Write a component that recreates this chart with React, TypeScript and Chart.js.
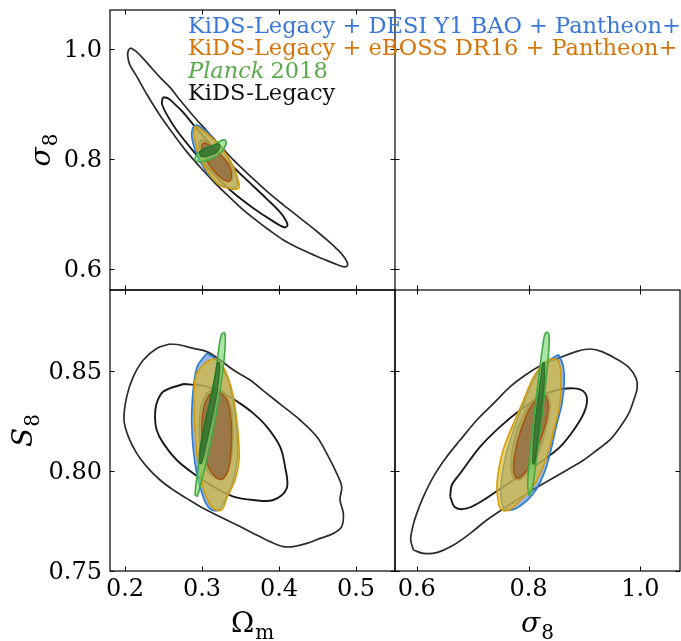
import React, { useEffect, useRef } from 'react';
import { Chart, registerables } from 'chart.js';

Chart.register(...registerables);
Chart.defaults.font.family = '"DejaVu Serif", serif';

type Pt = [number, number];

// ---------------- axes ----------------
const omegaTicks = [0.2, 0.3, 0.4, 0.5];
const sigma8Ticks = [0.6, 0.8, 1.0];
const s8Ticks = [0.75, 0.8, 0.85];
const omegaMin = 0.1805;
const omegaMax = 0.5506;
const sigma8Min = 0.561;
const sigma8Max = 1.071;
const s8Min = 0.75;
const s8Max = 0.8905;

const legendLabels = [
  'KiDS-Legacy + DESI Y1 BAO + Pantheon+',
  'KiDS-Legacy + eBOSS DR16 + Pantheon+',
  'Planck',
  '2018',
  'KiDS-Legacy',
];

// ---------------- Omega_m vs sigma_8 ----------------
const kidsOuterOmSig: Pt[] = [
  [0.2075, 1.002], [0.214, 0.996], [0.224, 0.982], [0.236, 0.963], [0.247, 0.946], [0.2584, 0.93],
  [0.2714, 0.907], [0.2887, 0.878], [0.3061, 0.851], [0.3234, 0.824], [0.3407, 0.798], [0.3623, 0.769],
  [0.384, 0.741], [0.4056, 0.716], [0.4273, 0.692], [0.4489, 0.668], [0.4641, 0.65], [0.4749, 0.636],
  [0.483, 0.624], [0.488, 0.613], [0.489, 0.606], [0.485, 0.603], [0.476, 0.607], [0.46, 0.616],
  [0.44, 0.628], [0.4186, 0.642], [0.4056, 0.652], [0.3883, 0.669], [0.3667, 0.692], [0.3494, 0.712],
  [0.332, 0.735], [0.3147, 0.759], [0.2974, 0.785], [0.2801, 0.813], [0.2628, 0.845], [0.2455, 0.879],
  [0.2281, 0.918], [0.2152, 0.95], [0.206, 0.972], [0.2035, 0.988], [0.2045, 0.998],
];
const kidsInnerOmSig: Pt[] = [
  [0.249, 0.912], [0.256, 0.91], [0.265, 0.899], [0.2758, 0.884], [0.29, 0.86], [0.3061, 0.834],
  [0.32, 0.813], [0.332, 0.797], [0.3494, 0.773], [0.3667, 0.75], [0.384, 0.727], [0.4013, 0.703],
  [0.408, 0.69], [0.411, 0.679], [0.407, 0.675], [0.3926, 0.686], [0.3667, 0.71], [0.3407, 0.738],
  [0.3147, 0.773], [0.2887, 0.814], [0.2671, 0.852], [0.2545, 0.88], [0.248, 0.9],
];
const desiOuterOmSig: Pt[] = [
  [0.3061, 0.8502], [0.2996, 0.8564], [0.2939, 0.8613], [0.29, 0.86], [0.2874, 0.8536], [0.2866, 0.8428],
  [0.2887, 0.8262], [0.2931, 0.8081], [0.2987, 0.7922], [0.3039, 0.7797], [0.3113, 0.7665], [0.3212, 0.7543],
  [0.3312, 0.7483], [0.3407, 0.7465], [0.3459, 0.7517], [0.345, 0.7651], [0.3407, 0.7824], [0.3342, 0.8011],
  [0.3234, 0.8215], [0.3139, 0.838],
];
const desiInnerOmSig: Pt[] = [
  [0.3169, 0.8186], [0.3061, 0.8304], [0.2987, 0.834], [0.2961, 0.8276], [0.2974, 0.8158], [0.3026, 0.7995],
  [0.3126, 0.7812], [0.3234, 0.7669], [0.3342, 0.7585], [0.3398, 0.7631], [0.3398, 0.7756], [0.3355, 0.7893],
  [0.3277, 0.8034],
];
const ebossOuterOmSig: Pt[] = [
  [0.319, 0.83], [0.3104, 0.841], [0.3017, 0.8506], [0.2931, 0.8587], [0.29, 0.8566], [0.2896, 0.847],
  [0.2909, 0.8332], [0.2931, 0.8183], [0.2974, 0.8023], [0.3039, 0.7837], [0.3147, 0.7628], [0.3255, 0.7493],
  [0.3329, 0.7473], [0.3429, 0.7441], [0.3481, 0.7478], [0.3472, 0.7596], [0.345, 0.7698], [0.3407, 0.7856],
  [0.3342, 0.8018], [0.3268, 0.8168],
];
const ebossInnerOmSig: Pt[] = [
  [0.319, 0.8148], [0.3095, 0.825], [0.3026, 0.8286], [0.2996, 0.8228], [0.3017, 0.809], [0.3082, 0.7915],
  [0.3182, 0.7737], [0.3268, 0.7627], [0.3346, 0.7587], [0.3381, 0.7666], [0.3372, 0.7802], [0.3312, 0.7959],
];
const planckOuterOmSig: Pt[] = [
  [0.2905, 0.8], [0.293, 0.808], [0.298, 0.8135], [0.3039, 0.819], [0.3117, 0.8235], [0.318, 0.827],
  [0.3235, 0.832], [0.328, 0.8345], [0.331, 0.8325], [0.331, 0.826], [0.328, 0.818], [0.3242, 0.8105],
  [0.3169, 0.803], [0.3082, 0.7975], [0.2996, 0.795], [0.2925, 0.7955],
];
const planckInnerOmSig: Pt[] = [
  [0.2975, 0.807], [0.297, 0.8125], [0.3017, 0.818], [0.3095, 0.8215], [0.317, 0.8255], [0.3205, 0.8275],
  [0.323, 0.8245], [0.322, 0.8175], [0.317, 0.8105], [0.3095, 0.8065], [0.3025, 0.804], [0.2985, 0.8045],
];

// ---------------- Omega_m vs S_8 ----------------
const kidsOuterOmS8: Pt[] = [
  [0.2584, 0.8635], [0.2714, 0.863], [0.2887, 0.8613], [0.3061, 0.8597], [0.3234, 0.8555], [0.3407, 0.8505],
  [0.3623, 0.8455], [0.384, 0.8388], [0.4056, 0.8322], [0.4273, 0.8255], [0.4489, 0.8172], [0.4641, 0.8072],
  [0.4749, 0.7988], [0.4814, 0.7922], [0.4792, 0.7855], [0.4835, 0.7788], [0.4814, 0.7722], [0.4706, 0.7688],
  [0.4532, 0.7663], [0.4359, 0.7638], [0.4186, 0.7622], [0.4056, 0.7622], [0.3883, 0.7647], [0.3667, 0.7688],
  [0.3494, 0.7722], [0.332, 0.7755], [0.3147, 0.7788], [0.2974, 0.7822], [0.2801, 0.7863], [0.2628, 0.7905],
  [0.2455, 0.7955], [0.2281, 0.8022], [0.2152, 0.8088], [0.2043, 0.8172], [0.1987, 0.8255], [0.2022, 0.8372],
  [0.2108, 0.8472], [0.2238, 0.8555], [0.2411, 0.8613],
];
const kidsInnerOmS8: Pt[] = [
  [0.2758, 0.8435], [0.3061, 0.8422], [0.332, 0.838], [0.3494, 0.8338], [0.3667, 0.8288], [0.384, 0.8222],
  [0.4013, 0.8122], [0.4078, 0.8022], [0.41, 0.7913], [0.3926, 0.7855], [0.3667, 0.7855], [0.3407, 0.7872],
  [0.3147, 0.7922], [0.2887, 0.7988], [0.2671, 0.8055], [0.2498, 0.8138], [0.2411, 0.8205], [0.239, 0.8272],
  [0.2411, 0.8338], [0.2498, 0.8397],
];
const desiOuterOmS8: Pt[] = [
  [0.3061, 0.8588], [0.2996, 0.8558], [0.2939, 0.8525], [0.29, 0.8455], [0.2874, 0.8355], [0.2866, 0.8238],
  [0.2887, 0.8105], [0.2931, 0.7988], [0.2987, 0.7905], [0.3039, 0.7847], [0.3113, 0.7808], [0.3212, 0.7805],
  [0.3312, 0.7863], [0.3407, 0.7955], [0.3459, 0.8072], [0.345, 0.8205], [0.3407, 0.8338], [0.3342, 0.8455],
  [0.3234, 0.853], [0.3139, 0.8572],
];
const desiInnerOmS8: Pt[] = [
  [0.3169, 0.8413], [0.3061, 0.8388], [0.2987, 0.8322], [0.2961, 0.8222], [0.2974, 0.8122], [0.3026, 0.803],
  [0.3126, 0.7975], [0.3234, 0.7963], [0.3342, 0.8005], [0.3398, 0.8122], [0.3398, 0.8255], [0.3355, 0.8347],
  [0.3277, 0.8397],
];
const ebossOuterOmS8: Pt[] = [
  [0.319, 0.856], [0.3104, 0.8555], [0.3017, 0.853], [0.2931, 0.8488], [0.29, 0.8422], [0.2896, 0.8322],
  [0.2909, 0.8205], [0.2931, 0.8088], [0.2974, 0.7988], [0.3039, 0.7888], [0.3147, 0.7813], [0.3255, 0.7805],
  [0.3329, 0.7872], [0.3429, 0.7955], [0.3481, 0.8055], [0.3472, 0.8172], [0.345, 0.8255], [0.3407, 0.8372],
  [0.3342, 0.8463], [0.3268, 0.8525],
];
const ebossInnerOmS8: Pt[] = [
  [0.319, 0.8402], [0.3095, 0.838], [0.3026, 0.8322], [0.2996, 0.8222], [0.3017, 0.8113], [0.3082, 0.8022],
  [0.3182, 0.7968], [0.3268, 0.796], [0.3346, 0.8013], [0.3381, 0.8138], [0.3372, 0.8272], [0.3312, 0.8363],
];
const planckOuterOmS8: Pt[] = [
  [0.2909, 0.788], [0.2922, 0.7938], [0.2965, 0.8055], [0.3039, 0.8222], [0.3117, 0.8372], [0.3182, 0.8505],
  [0.3221, 0.8622], [0.3251, 0.868], [0.329, 0.8692], [0.3303, 0.8658], [0.3286, 0.8555], [0.3242, 0.8422],
  [0.3169, 0.8255], [0.3082, 0.8088], [0.2996, 0.7955], [0.2939, 0.7875],
];
const planckInnerOmS8: Pt[] = [
  [0.2974, 0.8038], [0.2965, 0.8085], [0.3017, 0.8205], [0.3095, 0.8338], [0.3169, 0.8472], [0.3199, 0.8538],
  [0.3225, 0.8542], [0.3221, 0.8472], [0.3169, 0.8338], [0.3095, 0.8205], [0.3026, 0.8088], [0.2991, 0.8038],
];

// ---------------- sigma_8 vs S_8 ----------------
const kidsOuterSigS8: Pt[] = [
  [0.594, 0.7605], [0.5892, 0.7655], [0.5928, 0.7722], [0.6, 0.7788], [0.6119, 0.7872], [0.6299, 0.7972],
  [0.6538, 0.8072], [0.6777, 0.8155], [0.7075, 0.8255], [0.7374, 0.8338], [0.7673, 0.8422], [0.7971, 0.8485],
  [0.827, 0.8535], [0.8569, 0.8568], [0.8867, 0.8598], [0.9106, 0.861], [0.9315, 0.8597], [0.9554, 0.8563],
  [0.9793, 0.8518], [0.9925, 0.8463], [0.9943, 0.8413], [0.9883, 0.8355], [0.9793, 0.8288], [0.9644, 0.8222],
  [0.9465, 0.8158], [0.9226, 0.8105], [0.8987, 0.8055], [0.8688, 0.8005], [0.833, 0.7947], [0.7971, 0.7888],
  [0.7613, 0.7822], [0.7254, 0.7755], [0.6956, 0.7688], [0.6657, 0.763], [0.6358, 0.7592], [0.6119, 0.7588],
];
const kidsInnerSigS8: Pt[] = [
  [0.6597, 0.7872], [0.6627, 0.793], [0.6777, 0.7988], [0.7135, 0.8122], [0.7493, 0.8222], [0.7852, 0.8305],
  [0.821, 0.8372], [0.8509, 0.8405], [0.8808, 0.8413], [0.8987, 0.8397], [0.9047, 0.8355], [0.8987, 0.8288],
  [0.8808, 0.8205], [0.8569, 0.8122], [0.827, 0.8055], [0.7912, 0.7988], [0.7553, 0.7922], [0.7195, 0.7855],
  [0.6896, 0.7813], [0.6687, 0.7818],
];
const desiOuterSigS8: Pt[] = [
  [0.8539, 0.8582], [0.8449, 0.8568], [0.833, 0.8547], [0.8198, 0.8505], [0.8061, 0.8438], [0.7912, 0.8338],
  [0.7732, 0.8205], [0.7601, 0.8088], [0.7523, 0.7972], [0.7505, 0.7872], [0.7565, 0.7813], [0.7732, 0.7808],
  [0.7971, 0.7852], [0.8151, 0.7913], [0.83, 0.8005], [0.8401, 0.8105], [0.8495, 0.8222], [0.8598, 0.8338],
  [0.864, 0.8455], [0.8616, 0.853],
];
const desiInnerSigS8: Pt[] = [
  [0.833, 0.8392], [0.8198, 0.838], [0.8031, 0.8338], [0.7864, 0.8255], [0.7744, 0.8155], [0.7685, 0.8047],
  [0.7714, 0.7972], [0.7804, 0.7955], [0.7924, 0.7972], [0.8079, 0.803], [0.8222, 0.8122], [0.8341, 0.8247],
  [0.8389, 0.8338],
];
const ebossOuterSigS8: Pt[] = [
  [0.8449, 0.8563], [0.83, 0.8547], [0.818, 0.8508], [0.8061, 0.8455], [0.7912, 0.8355], [0.7732, 0.8238],
  [0.7565, 0.8122], [0.7475, 0.8022], [0.7434, 0.7922], [0.7464, 0.7838], [0.7523, 0.7805], [0.7673, 0.7808],
  [0.7852, 0.7855], [0.8079, 0.7922], [0.8258, 0.8022], [0.8378, 0.8122], [0.8467, 0.8222], [0.8551, 0.8322],
  [0.8581, 0.8438], [0.8569, 0.8513], [0.8521, 0.8555],
];
const ebossInnerSigS8: Pt[] = [
  [0.83, 0.838], [0.8163, 0.8363], [0.8013, 0.8308], [0.7864, 0.8205], [0.7763, 0.8097], [0.7733, 0.7997],
  [0.781, 0.7963], [0.7959, 0.8002], [0.8138, 0.8105], [0.83, 0.823], [0.8353, 0.8335],
];
const planckOuterSigS8: Pt[] = [
  [0.8013, 0.7875], [0.7983, 0.7922], [0.8013, 0.8055], [0.8091, 0.8255], [0.8174, 0.8455], [0.8252, 0.8622],
  [0.8288, 0.868], [0.833, 0.8693], [0.8366, 0.868], [0.836, 0.8597], [0.8306, 0.8438], [0.8222, 0.8238],
  [0.8139, 0.8055], [0.8067, 0.7913],
];
const planckInnerSigS8: Pt[] = [
  [0.8073, 0.8038], [0.8091, 0.8155], [0.8151, 0.8322], [0.8222, 0.8472], [0.8252, 0.8538], [0.8282, 0.8542],
  [0.8282, 0.8455], [0.8222, 0.8288], [0.8151, 0.8122], [0.8103, 0.8035],
];

// ---------------- styles ----------------
interface Style { edge: string; fill: string | null; width: number }
const STY: Record<string, Style> = {
  kidsOuter: { edge: '#2b2b2b', fill: null, width: 1.7 },
  kidsInner: { edge: '#1a1a1a', fill: null, width: 1.9 },
  desiOuter: { edge: '#2a7ad2', fill: 'rgba(80,130,200,0.6)', width: 1.6 },
  desiInner: { edge: '#3a6aa5', fill: 'rgba(50,90,150,0.55)', width: 1.4 },
  ebossOuter: { edge: '#d49a0a', fill: 'rgba(222,188,40,0.65)', width: 1.6 },
  ebossInner: { edge: '#a8530e', fill: 'rgba(140,90,60,0.6)', width: 1.4 },
  planckOuter: { edge: '#42a842', fill: 'rgba(115,212,105,0.6)', width: 1.6 },
  planckInner: { edge: '#2a742a', fill: 'rgba(40,100,40,0.72)', width: 1.4 },
};

const W = 681;
const H = 641;
const colLeft = 110;
const colMid = 395;
const colRight = 680;
const rowTop = 10;
const rowMid = 290;
const rowBottom = 571;

function ds(pts: Pt[], st: Style) {
  const data = pts.map(([x, y]) => ({ x, y }));
  data.push({ ...data[0] });
  return {
    data,
    borderColor: st.edge,
    backgroundColor: st.fill ?? 'rgba(0,0,0,0)',
    fill: st.fill ? 'shape' : false,
    borderWidth: st.width,
    pointRadius: 0,
    tension: 0.35,
    borderJoinStyle: 'round',
  };
}

function panelDatasets(p: Record<string, Pt[]>) {
  // first = on top
  return [
    ds(p.planckInner, STY.planckInner),
    ds(p.planckOuter, STY.planckOuter),
    ds(p.ebossInner, STY.ebossInner),
    ds(p.ebossOuter, STY.ebossOuter),
    ds(p.desiInner, STY.desiInner),
    ds(p.desiOuter, STY.desiOuter),
    ds(p.kidsInner, STY.kidsInner),
    ds(p.kidsOuter, STY.kidsOuter),
  ];
}

const TICK_FONT = { family: '"DejaVu Serif", serif', size: 24 };

function axis(min: number, max: number, ticks: number[], show: boolean, size: number, dec: number, horizontal: boolean) {
  return {
    type: 'linear',
    min,
    max,
    afterBuildTicks: (s: any) => {
      s.ticks = ticks.map((v) => ({ value: v }));
    },
    afterFit: (s: any) => {
      if (horizontal) s.height = size;
      else s.width = size;
      s.paddingTop = 0;
      s.paddingBottom = 0;
      s.paddingLeft = 0;
      s.paddingRight = 0;
    },
    grid: { display: false, drawTicks: false },
    border: { display: false },
    ticks: {
      display: show,
      autoSkip: false,
      maxRotation: 0,
      minRotation: 0,
      padding: horizontal ? 4 : 8,
      labelOffset: horizontal ? 0 : 2,
      color: '#000',
      font: TICK_FONT,
      callback: (v: any) => Number(v).toFixed(dec),
    },
  };
}

const framePlugin = {
  id: 'frame',
  afterDatasetsDraw(chart: any, _a: any, opts: any) {
    const { ctx, chartArea: a } = chart;
    const xs = chart.scales.x;
    const ys = chart.scales.y;
    const L = 4.5;
    ctx.save();
    ctx.strokeStyle = '#000';
    ctx.lineWidth = 1;
    ctx.beginPath();
    for (const t of xs.ticks) {
      const px = Math.round(xs.getPixelForValue(t.value)) + 0.5;
      ctx.moveTo(px, a.bottom);
      ctx.lineTo(px, a.bottom - L);
      ctx.moveTo(px, a.top);
      ctx.lineTo(px, a.top + L);
      if (opts.topOut) {
        ctx.moveTo(px, a.top);
        ctx.lineTo(px, a.top - L);
      }
    }
    for (const t of ys.ticks) {
      const py = Math.round(ys.getPixelForValue(t.value)) + 0.5;
      ctx.moveTo(a.left, py);
      ctx.lineTo(a.left + L, py);
      ctx.moveTo(a.right, py);
      ctx.lineTo(a.right - L, py);
      if (opts.rightOut) {
        ctx.moveTo(a.right, py);
        ctx.lineTo(a.right + L, py);
      }
    }
    ctx.stroke();
    ctx.lineWidth = 1.2;
    ctx.strokeRect(a.left, a.top, a.right - a.left, a.bottom - a.top);
    ctx.restore();
  },
};

const SERIF = '"DejaVu Serif", serif';

function drawSubLabel(ctx: CanvasRenderingContext2D, main: string, mainItalic: boolean, sub: string, cx: number, base: number, rotated: boolean) {
  ctx.save();
  const mf = `${mainItalic ? 'italic ' : ''}28px ${SERIF}`;
  const sf = `20px ${SERIF}`;
  ctx.font = mf;
  const w1 = ctx.measureText(main).width;
  ctx.font = sf;
  const w2 = ctx.measureText(sub).width;
  const tot = w1 + w2 + 1;
  ctx.fillStyle = '#000';
  ctx.textAlign = 'left';
  ctx.textBaseline = 'alphabetic';
  if (rotated) {
    ctx.translate(base, cx);
    ctx.rotate(-Math.PI / 2);
    ctx.font = mf;
    ctx.fillText(main, -tot / 2, 0);
    ctx.font = sf;
    ctx.fillText(sub, -tot / 2 + w1 + 1, 7);
  } else {
    ctx.font = mf;
    ctx.fillText(main, cx - tot / 2, base);
    ctx.font = sf;
    ctx.fillText(sub, cx - tot / 2 + w1 + 1, base + 7);
  }
  ctx.restore();
}

function makeConfig(kind: 'tl' | 'bl' | 'br') {
  let datasets: any[];
  let xAxis: any;
  let yAxis: any;
  let padding: any;
  let frame: any = {};
  let draw: (chart: any) => void;
  if (kind === 'tl') {
    datasets = panelDatasets({
      kidsOuter: kidsOuterOmSig, kidsInner: kidsInnerOmSig, desiOuter: desiOuterOmSig, desiInner: desiInnerOmSig,
      ebossOuter: ebossOuterOmSig, ebossInner: ebossInnerOmSig, planckOuter: planckOuterOmSig, planckInner: planckInnerOmSig,
    });
    xAxis = axis(omegaMin, omegaMax, omegaTicks, false, 0, 1, true);
    yAxis = axis(sigma8Min, sigma8Max, sigma8Ticks, true, colLeft, 1, false);
    padding = { left: 0, top: rowTop, right: W - colMid, bottom: H - rowMid };
    frame = { rightOut: true };
    draw = (chart) => {
      const { ctx, chartArea: a } = chart;
      drawSubLabel(ctx, 'σ', true, '8', (a.top + a.bottom) / 2, 50, true);
      ctx.save();
      ctx.textAlign = 'left';
      ctx.textBaseline = 'alphabetic';
      ctx.font = `22.5px ${SERIF}`;
      ctx.fillStyle = '#3b77d6';
      ctx.fillText(legendLabels[0], 188, 33);
      ctx.fillStyle = '#d6750a';
      ctx.fillText(legendLabels[1], 188, 55);
      ctx.fillStyle = '#5aaa4b';
      ctx.font = `italic 22.5px ${SERIF}`;
      ctx.fillText(legendLabels[2], 188, 77.5);
      const wp = ctx.measureText(legendLabels[2]).width;
      ctx.font = `22.5px ${SERIF}`;
      ctx.fillText(legendLabels[3], 188 + wp + 6, 77.5);
      ctx.fillStyle = '#111';
      ctx.fillText(legendLabels[4], 188, 100);
      ctx.restore();
    };
  } else if (kind === 'bl') {
    datasets = panelDatasets({
      kidsOuter: kidsOuterOmS8, kidsInner: kidsInnerOmS8, desiOuter: desiOuterOmS8, desiInner: desiInnerOmS8,
      ebossOuter: ebossOuterOmS8, ebossInner: ebossInnerOmS8, planckOuter: planckOuterOmS8, planckInner: planckInnerOmS8,
    });
    xAxis = axis(omegaMin, omegaMax, omegaTicks, true, H - rowBottom, 1, true);
    yAxis = axis(s8Min, s8Max, s8Ticks, true, colLeft, 2, false);
    padding = { left: 0, top: rowMid, right: W - colMid, bottom: 0 };
    draw = (chart) => {
      const { ctx, chartArea: a } = chart;
      drawSubLabel(ctx, 'Ω', false, 'm', (a.left + a.right) / 2, 632, false);
      drawSubLabel(ctx, 'S', true, '8', (a.top + a.bottom) / 2, 32, true);
    };
  } else {
    datasets = panelDatasets({
      kidsOuter: kidsOuterSigS8, kidsInner: kidsInnerSigS8, desiOuter: desiOuterSigS8, desiInner: desiInnerSigS8,
      ebossOuter: ebossOuterSigS8, ebossInner: ebossInnerSigS8, planckOuter: planckOuterSigS8, planckInner: planckInnerSigS8,
    });
    xAxis = axis(sigma8Min, sigma8Max, sigma8Ticks, true, H - rowBottom, 1, true);
    yAxis = axis(s8Min, s8Max, s8Ticks, false, 0, 2, false);
    padding = { left: colMid, top: rowMid, right: W - colRight, bottom: 0 };
    frame = { topOut: true };
    draw = (chart) => {
      const { ctx, chartArea: a } = chart;
      drawSubLabel(ctx, 'σ', true, '8', (a.left + a.right) / 2, 632, false);
    };
  }
  return {
    type: 'line',
    data: { datasets },
    options: {
      responsive: false,
      animation: false,
      events: [],
      parsing: true,
      layout: { padding },
      plugins: { legend: { display: false }, tooltip: { enabled: false }, frame },
      scales: { x: xAxis, y: yAxis },
    },
    plugins: [framePlugin, { id: 'labels' + kind, afterDraw: draw }],
  };
}

function Panel({ kind }: { kind: 'tl' | 'bl' | 'br' }) {
  const ref = useRef<HTMLCanvasElement | null>(null);
  useEffect(() => {
    if (!ref.current) return;
    const chart = new Chart(ref.current, makeConfig(kind) as any);
    return () => chart.destroy();
  }, [kind]);
  return (
    <canvas
      ref={ref}
      width={W}
      height={H}
      style={{ position: 'absolute', left: 0, top: 0, width: W, height: H }}
    />
  );
}

export default function App() {
  return (
    <div style={{ position: 'absolute', left: 0, top: 0, width: W, height: H, background: '#fff', overflow: 'hidden' }}>
      <Panel kind="tl" />
      <Panel kind="bl" />
      <Panel kind="br" />
    </div>
  );
}
